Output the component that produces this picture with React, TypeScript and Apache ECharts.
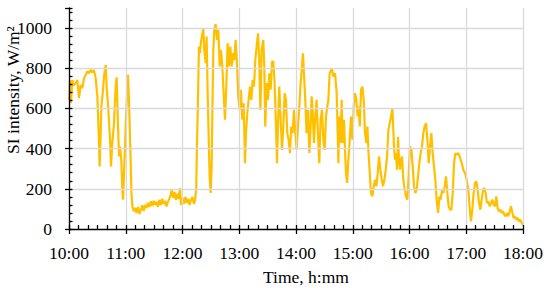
import React, { useEffect, useRef } from "react";
import * as echarts from "echarts";

const FONT = "'Liberation Serif', 'Times New Roman', serif";

// x tick labels (minutes from 10:00, one per hour)
const hourLabels = ["10:00", "11:00", "12:00", "13:00", "14:00", "15:00", "16:00", "17:00", "18:00"];
const xTitle = "Time, h:mm";
const yTitle = "SI intensity, W/m²";

// readings: [minutes after 10:00, W/m²]
const hour10: number[][] = [
  [0, 640], [1, 742], [2, 626], [3.5, 742], [5, 715], [7, 726], [8.8, 742], [10.6, 651], [12.3, 717],
  [14.1, 701], [15.9, 750], [17.5, 765], [19.4, 784], [21, 775], [22.9, 792], [24.5, 780], [26.4, 792],
  [28.2, 750], [30, 660], [31.4, 477], [32.4, 311], [33.5, 477], [34.2, 610], [36, 693], [37, 759],
  [38.8, 817], [39.8, 709], [41.6, 593], [43.4, 444], [44.4, 311], [45.8, 428], [47.6, 527], [49.3, 709],
  [50.4, 755], [51.5, 560], [52.9, 361], [53.9, 411], [55.3, 345], [56.4, 196], [57.1, 146], [58.2, 278],
  [59.9, 510],
];
const hour11: number[][] = [
  [61.7, 709], [62.4, 767], [63.4, 643], [64.9, 394], [66, 179], [67, 113], [68.7, 88], [70, 105],
  [71.5, 80], [73, 110], [74.5, 75], [76, 95], [77.5, 118], [79, 90], [80.5, 120], [82, 105], [83.5, 130],
  [85, 110], [86.5, 138], [88, 115], [89.5, 140], [91, 120], [92.5, 135], [94, 110], [95.5, 145], [97, 120],
  [98.5, 150], [100, 125], [101.5, 140], [103, 112], [104.5, 135], [106, 150], [107.5, 170], [108.6, 195],
  [110, 155], [111.5, 185], [113, 145], [114.5, 175], [116, 150], [117.4, 204], [118.5, 120],
];
const hour12: number[][] = [
  [120, 155], [121.5, 125], [123, 160], [124.5, 130], [126, 150], [127.5, 120], [129, 145], [130.5, 160],
  [132, 125], [133.2, 140], [134.5, 200], [135.3, 420], [136, 560], [137.4, 908], [138.5, 875], [139.5, 930],
  [141, 974], [142, 999], [143, 891], [144.5, 825], [145.5, 958], [146.6, 676], [147.6, 477], [148.7, 262],
  [149.8, 179], [150.8, 311], [151.5, 560], [152.6, 891], [153.6, 991], [155, 1021], [156.5, 941],
  [157.9, 991], [159.3, 809], [160.7, 891], [162.1, 809], [163.5, 676], [164.9, 544], [166.3, 709],
  [167.7, 925], [169.2, 809], [170.6, 908], [172, 809], [173.4, 875], [174.8, 840], [176.2, 941],
  [177.6, 825], [179, 660],
];
const hour13: number[][] = [
  [180.4, 593], [181.8, 693], [183.2, 544], [184.7, 626], [186.1, 328], [187.1, 477], [188.5, 577],
  [189.9, 643], [191.4, 709], [192.8, 643], [194.2, 742], [195.6, 709], [197, 842], [198.4, 908],
  [199.8, 974], [201, 858], [202.4, 593], [203.7, 891], [205.4, 941], [206.5, 809], [207.5, 510], [209, 726],
  [210.4, 643], [211.8, 775], [213.2, 693], [214.6, 833], [216, 833], [217.4, 726], [218.8, 527],
  [219.9, 328], [220.9, 510], [222.3, 709], [223.8, 544], [225.2, 394], [226.6, 510], [228, 676],
  [229.4, 643], [230.8, 477], [232.2, 444], [233.6, 378], [235, 510], [236.4, 477], [237.9, 593], [239.3, 477],
];
const hour14: number[][] = [
  [240.7, 394], [242.1, 510], [243.5, 610], [244.9, 726], [246.3, 809], [247.4, 875], [248.4, 775],
  [249.8, 643], [251.2, 477], [252.7, 593], [254.1, 378], [255.5, 510], [256.5, 660], [257.6, 593],
  [259, 428], [260.4, 560], [261.8, 643], [263.2, 477], [264.6, 328], [266, 544], [267.5, 593], [268.9, 444],
  [270.3, 394], [271.7, 560], [273.1, 610], [274.2, 643], [275.6, 775], [277.7, 800], [279.5, 759],
  [281.3, 775], [283, 676], [284.1, 477], [284.8, 328], [285.9, 560], [286.9, 428], [288.3, 643],
  [289.4, 428], [290.8, 544], [291.8, 394], [292.9, 278], [294, 229], [295.4, 345], [296.8, 444],
  [298.2, 560], [299.6, 444],
];
const hour15: number[][] = [
  [301, 610], [302.4, 676], [303.8, 643], [305.2, 560], [306.3, 610], [307.4, 510], [308.8, 693],
  [310.2, 709], [311.6, 643], [313, 477], [314.4, 428], [315.5, 510], [316.5, 394], [318, 278], [319.3, 179],
  [320.7, 162], [322.2, 212], [323.6, 245], [325, 212], [326.4, 278], [327.8, 361], [329.2, 295],
  [330.6, 245], [332, 212], [333.4, 245], [334.9, 295], [336.3, 361], [337.7, 494], [339.1, 527],
  [340.5, 560], [341.9, 600], [342.9, 494], [343.6, 411], [344.7, 345], [345.7, 378], [346.8, 295],
  [347.9, 459], [348.9, 345], [350, 295], [351, 345], [352.1, 361], [353.5, 245], [354.9, 196], [356.3, 162],
  [357.7, 146], [359.1, 262],
];
const hour16: number[][] = [
  [360.5, 411], [362, 394], [363.4, 311], [364.8, 212], [366.2, 179], [367.6, 196], [369, 262], [370.4, 328],
  [371.8, 378], [373.2, 411], [374.6, 477], [376, 510], [377.5, 527], [378.9, 444], [380.3, 328],
  [381.7, 411], [383.1, 477], [384.5, 378], [385.9, 311], [387.3, 245], [388.7, 146], [390.2, 80],
  [391.6, 162], [393, 146], [394.4, 196], [395.8, 179], [397.2, 212], [398.6, 262], [400, 179], [401.4, 113],
  [402.8, 96], [404.3, 96], [405.7, 179], [407.1, 328], [408.5, 378], [409.9, 369], [411.7, 378],
  [413.1, 361], [415.2, 328], [416.9, 295], [418.7, 278],
];
const hour17: number[][] = [
  [420.4, 245], [422.2, 196], [424, 80], [425, 38], [426.4, 96], [427.8, 179], [429.3, 229], [430.7, 237],
  [432.1, 196], [433.5, 129], [434.9, 96], [436.3, 146], [437.8, 196], [439.1, 204], [440.5, 179],
  [441.9, 129], [443.4, 137], [444.8, 113], [446.2, 129], [447.6, 146], [449, 121], [450.4, 113],
  [451.8, 162], [453.2, 104], [454.6, 88], [456, 96], [457.4, 80], [458.9, 88], [460.3, 71], [461.7, 63],
  [463.1, 80], [464.5, 63], [465.9, 88], [467.3, 113], [468.8, 80], [470.1, 55], [471.6, 63], [473, 46],
  [474.4, 55], [475.8, 38], [477.2, 46], [478.6, 30], [480, 17],
];

const readings = [...hour10, ...hour11, ...hour12, ...hour13, ...hour14, ...hour15, ...hour16, ...hour17];

export default function App() {
  const ref = useRef<HTMLDivElement>(null);
  useEffect(() => {
    if (!ref.current) return;
    const chart = echarts.init(ref.current, null, { renderer: "svg" });
    const tickStyle = { color: "#000", width: 1.3 };
    chart.setOption({
      animation: false,
      backgroundColor: "#fff",
      textStyle: { fontFamily: FONT },
      grid: { left: 69, right: 27, top: 8, bottom: 59, outerBoundsMode: "none" },
      xAxis: [
        {
          type: "value",
          min: 0,
          max: 480,
          interval: 60,
          position: "bottom",
          axisLine: { show: true, onZero: false, lineStyle: { color: "#000", width: 1.3 } },
          axisTick: { show: true, inside: false, length: 5, lineStyle: tickStyle },
          axisLabel: {
            formatter: (v: number) => hourLabels[Math.round(v / 60)] ?? "",
            color: "#000",
            fontSize: 17.5,
            fontFamily: FONT,
            margin: 15,
          },
          splitLine: { show: true, lineStyle: { color: "#d9d9d9", width: 1.3 } },
          name: xTitle,
          nameLocation: "middle",
          nameGap: 39,
          nameTextStyle: { color: "#000", fontSize: 17.5, fontFamily: FONT, padding: [0, 0, 0, 20] },
          z: 5,
        },
        {
          type: "value",
          min: 0,
          max: 480,
          interval: 10,
          position: "bottom",
          axisLine: { show: false, onZero: false },
          axisTick: { show: true, inside: true, length: 4, lineStyle: tickStyle },
          axisLabel: { show: false },
          splitLine: { show: false },
          z: 5,
        },
      ],
      yAxis: [
        {
          type: "value",
          min: 0,
          max: 1100,
          interval: 200,
          position: "left",
          axisLine: { show: true, onZero: false, lineStyle: { color: "#000", width: 1.3 } },
          axisTick: { show: true, inside: false, length: 4, lineStyle: tickStyle },
          axisLabel: {
            formatter: (v: number) => (v > 1000 ? "" : String(v)),
            color: "#000",
            fontSize: 17.5,
            fontFamily: FONT,
            margin: 17,
          },
          splitLine: { show: true, showMinLine: false, showMaxLine: false, lineStyle: { color: "#d9d9d9", width: 1.3 } },
          z: 5,
        },
        {
          type: "value",
          min: 0,
          max: 1100,
          interval: 40,
          position: "left",
          axisLine: { show: false, onZero: false },
          axisTick: { show: true, inside: true, length: 3.5, lineStyle: tickStyle },
          axisLabel: { show: false },
          splitLine: { show: false },
          z: 5,
        },
      ],
      graphic: [
        {
          type: "text",
          x: 13,
          y: 90,
          rotation: Math.PI / 2,
          style: {
            text: yTitle,
            fontSize: 17.5,
            fontFamily: FONT,
            fill: "#000",
            align: "center",
            verticalAlign: "middle",
          },
        },
      ],
      series: [
        {
          type: "line",
          xAxisIndex: 0,
          yAxisIndex: 0,
          data: readings,
          showSymbol: false,
          symbol: "none",
          lineStyle: { color: "#FFC000", width: 2.2 },
          z: 3,
        },
      ],
    });
    return () => chart.dispose();
  }, []);
  return <div ref={ref} style={{ position: "fixed", left: 0, top: 0, width: 550, height: 288 }} />;
}
